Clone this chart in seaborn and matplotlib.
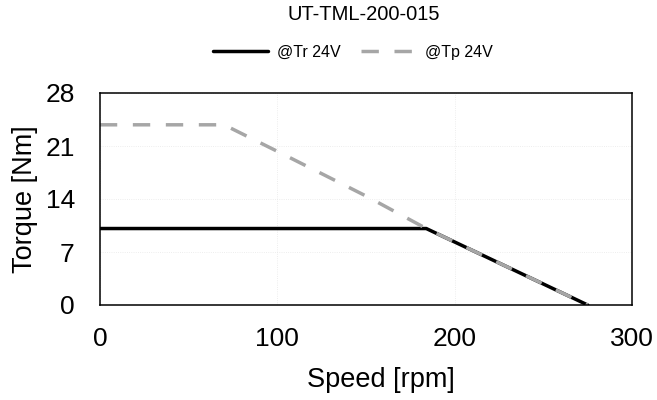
import numpy as np
import pandas as pd
import matplotlib
matplotlib.use('Agg')
import matplotlib.pyplot as plt
import seaborn as sns

# data
speed_tr = [0, 184, 275]
torque_tr = [10.1, 10.1, 0]
speed_tp = [0, 70, 100, 150, 184, 275]
torque_tp = [23.8, 23.8, 20.3, 14.4, 10.1, 0]

tr = pd.DataFrame({'Speed': speed_tr, 'Torque': torque_tr})
tp = pd.DataFrame({'Speed': speed_tp, 'Torque': torque_tp})

sns.set_style('white')
plt.rcParams['font.family'] = ['Liberation Sans', 'DejaVu Sans']
plt.rcParams.update({'text.color': 'black', 'axes.labelcolor': 'black',
                     'xtick.color': 'black', 'ytick.color': 'black'})

fig, ax = plt.subplots(figsize=(6.57, 4), dpi=100)
fig.subplots_adjust(left=0.152, right=0.962, top=0.7675, bottom=0.2375)

sns.lineplot(data=tr, x='Speed', y='Torque', ax=ax, color='black', lw=2.5, label='@Tr 24V')
sns.lineplot(data=tp, x='Speed', y='Torque', ax=ax, color='#A6A6A6', lw=2.5,
             linestyle=(0, (5, 4.5)), label='@Tp 24V')

ax.set_xlim(0, 300)
ax.set_ylim(0, 28)
ax.set_xticks([0, 100, 200, 300])
ax.set_yticks([0, 7, 14, 21, 28])
ax.grid(True, color='#E8E8E8', lw=0.6, linestyle=':')
ax.tick_params(labelsize=19, length=0, labelcolor='black')
ax.tick_params(axis='y', pad=18)
ax.tick_params(axis='x', pad=16)
for s in ax.spines.values():
    s.set_color('black')
    s.set_linewidth(1.1)

ax.set_xlabel('Speed [rpm]', fontsize=19.5, va='center', color='black')
ax.set_ylabel('Torque [Nm]', fontsize=19.5, va='center', color='black')
ax.xaxis.set_label_coords(0.528, -0.354)
ax.yaxis.set_label_coords(-0.141, 0.5)
fig.text(364 / 657, 1 - 14.5 / 400, 'UT-TML-200-015', fontsize=14.5, ha='center', va='center',
         color='black')
ax.legend(loc='center', bbox_to_anchor=(353 / 657, 1 - 52 / 400), bbox_transform=fig.transFigure,
          ncol=2, frameon=False, fontsize=11.5, labelcolor='black',
          handlelength=3.4, handletextpad=0.6, columnspacing=1.25)

plt.savefig('out.png', dpi=100)
